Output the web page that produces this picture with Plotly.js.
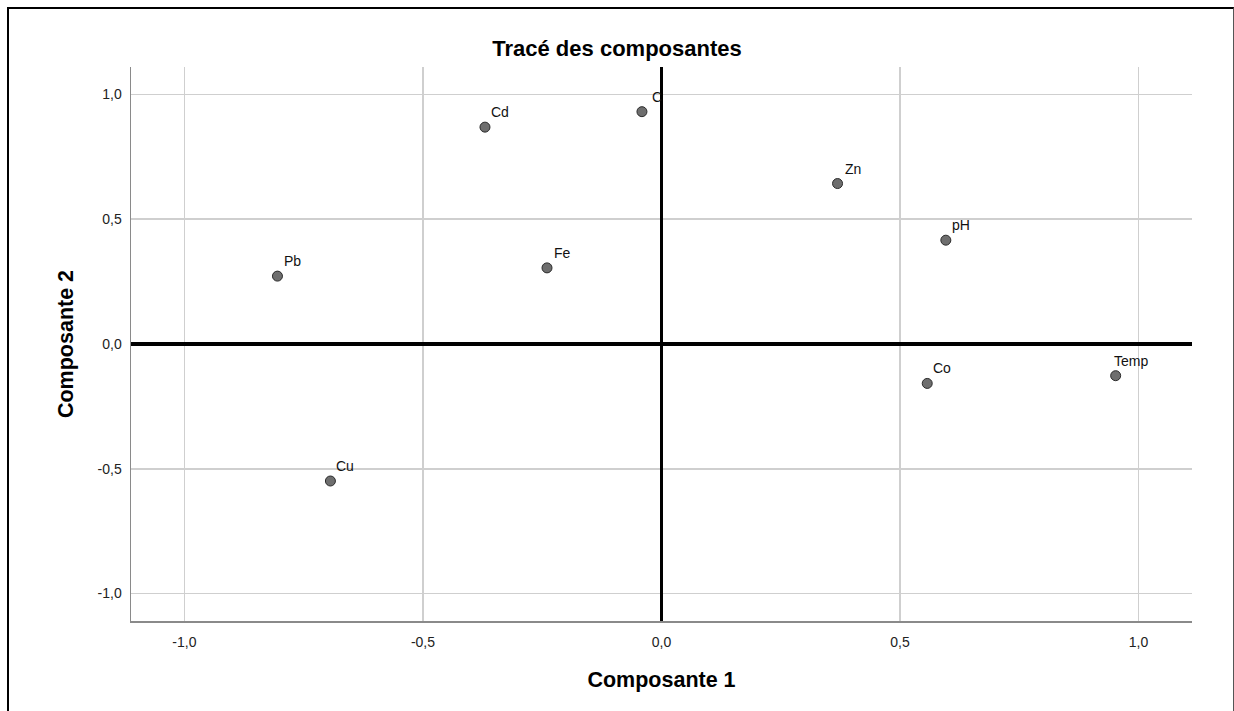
<!DOCTYPE html>
<html>
<head>
<meta charset="utf-8">
<script src="https://cdn.plot.ly/plotly-3.0.1.min.js"></script>
<style>
html,body{margin:0;padding:0;background:#fff;overflow:hidden;}
#wrap{position:relative;width:1234px;height:711px;}
#chart{position:absolute;left:0;top:0;width:1234px;height:711px;}
#frame{position:absolute;left:7px;top:7px;width:1224px;height:800px;border-left:2px solid #000;border-top:2px solid #000;border-right:1px solid #555;pointer-events:none;}
</style>
</head>
<body>
<div id="wrap"><div id="chart"></div><div id="frame"></div></div>
<script>
// Component loadings
const variables = ["Cd", "C", "Zn", "pH", "Pb", "Fe", "Co", "Temp", "Cu"];
const comp1 = [-0.370, -0.041, 0.369, 0.596, -0.805, -0.240, 0.557, 0.952, -0.694];
const comp2 = [0.869, 0.931, 0.643, 0.416, 0.272, 0.305, -0.158, -0.127, -0.549];
const tickVals = [-1.0, -0.5, 0.0, 0.5, 1.0];
const tickText = ["-1,0", "-0,5", "0,0", "0,5", "1,0"];

const FONT = "Liberation Sans, Arial, sans-serif";

const trace = {
  x: comp1,
  y: comp2,
  mode: "markers",
  type: "scatter",
  hoverinfo: "text",
  text: variables,
  marker: {size: 10, color: "#6e6e6e", line: {color: "#2b2b2b", width: 1}},
  showlegend: false
};

const labels = variables.map((v, i) => ({
  x: comp1[i], y: comp2[i], text: v, showarrow: false,
  xanchor: "center", yanchor: "bottom", xshift: 15, yshift: 5,
  font: {family: FONT, size: 14, color: "#111"}
}));

const axisCommon = {
  tickvals: tickVals, ticktext: tickText,
  showgrid: true, gridcolor: "#cfcfcf", gridwidth: 1.5,
  zeroline: true, zerolinecolor: "#000", zerolinewidth: 3.5,
  showline: true, linecolor: "#8a8a8a", linewidth: 1.5, mirror: false,
  ticks: "", tickfont: {family: FONT, size: 14, color: "#222"},
  fixedrange: true
};

const layout = {
  width: 1234, height: 711,
  margin: {l: 131, r: 42, t: 67, b: 90, pad: 0},
  paper_bgcolor: "#fff", plot_bgcolor: "#fff",
  font: {family: FONT, color: "#000"},
  title: {text: "<b>Tracé des composantes</b>", x: 0.5, xref: "container", xanchor: "center",
          y: 0.9325, yref: "container", yanchor: "middle",
          font: {family: FONT, size: 22, color: "#000"}},
  xaxis: Object.assign({}, axisCommon, {
    range: [-1.112, 1.112], ticklabelstandoff: 8,
    title: {text: "<b>Composante 1</b>", font: {family: FONT, size: 21.5, color: "#000"}, standoff: 22}
  }),
  yaxis: Object.assign({}, axisCommon, {
    range: [-1.11, 1.11], ticklabelstandoff: 5,
    title: {text: "<b>Composante 2</b>", font: {family: FONT, size: 21.5, color: "#000"}, standoff: 18}
  }),
  annotations: labels
};

Plotly.newPlot("chart", [trace], layout, {displayModeBar: false, staticPlot: true});
</script>
</body>
</html>
